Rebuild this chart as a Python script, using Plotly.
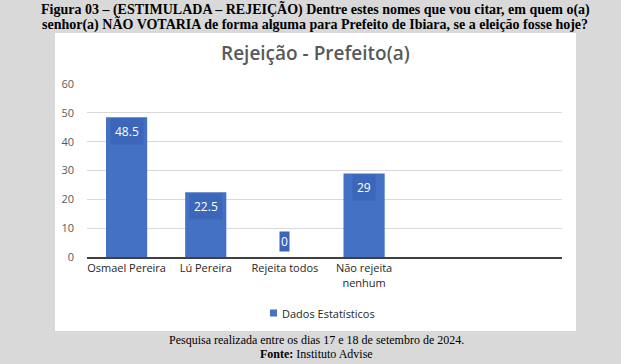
import plotly.graph_objects as go

categories = ["Osmael Pereira", "Lú Pereira", "Rejeita todos", "Não rejeita<br>nenhum", "", ""]
values = [48.5, 22.5, 0, 29]
labels = ["48.5", "22.5", "0", "29"]
series_name = "Dados Estatísticos"
y_ticks = [0, 10, 20, 30, 40, 50, 60]

W, H = 621, 364
L, R, T, B = 87, 59, 84, 107
pw, ph = W - L - R, H - T - B
bar_color = "#4471c4"

def px(x):
    return (x - L) / pw

def py(y):
    return (H - B - y) / ph

x_pos = list(range(len(values)))

fig = go.Figure()
fig.add_trace(go.Bar(
    x=x_pos, y=values, name=series_name, width=0.52,
    marker=dict(color=bar_color, line=dict(width=0)),
    showlegend=False,
))

font_body = "Open Sans, Noto Sans, sans-serif"
annotations = []
for xi, v, t in zip(x_pos, values, labels):
    if v > 0:
        annotations.append(dict(x=xi, y=v, xref="x", yref="y", text=t, showarrow=False,
                                yanchor="top", yshift=-1, bgcolor="#3b66b9", borderpad=4,
                                font=dict(color="white", size=12, family=font_body)))
    else:
        annotations.append(dict(x=xi, y=0, xref="x", yref="y", text=t, showarrow=False,
                                yanchor="bottom", yshift=5, bgcolor="#3b66b9", borderpad=1,
                                font=dict(color="white", size=12, family=font_body)))

serif = "Liberation Serif, Times New Roman, serif"
annotations += [
    dict(x=px(315), y=py(9), xref="paper", yref="paper", showarrow=False,
         text="<b>Figura 03 – (ESTIMULADA – REJEIÇÃO) Dentre estes nomes que vou citar, em quem o(a)</b>",
         font=dict(family=serif, size=14, color="black"), xanchor="center", yanchor="middle"),
    dict(x=px(315), y=py(24), xref="paper", yref="paper", showarrow=False,
         text="<b>senhor(a) NÃO VOTARIA de forma alguma para Prefeito de Ibiara, se a eleição fosse hoje?</b>",
         font=dict(family=serif, size=14, color="black"), xanchor="center", yanchor="middle"),
    dict(x=px(315), y=py(53), xref="paper", yref="paper", showarrow=False,
         text="Rejeição - Prefeito(a)",
         font=dict(family=font_body, size=19, color="#595959", weight=600), xanchor="center", yanchor="middle"),
    dict(x=px(280), y=py(313), xref="paper", yref="paper", showarrow=False,
         text=series_name,
         font=dict(family=font_body, size=11, color="#262626"), xanchor="left", yanchor="middle"),
    dict(x=px(316), y=py(340), xref="paper", yref="paper", showarrow=False,
         text="Pesquisa realizada entre os dias 17 e 18 de setembro de 2024.",
         font=dict(family=serif, size=12, color="black"), xanchor="center", yanchor="middle"),
    dict(x=px(316), y=py(354), xref="paper", yref="paper", showarrow=False,
         text="<b>Fonte:</b> Instituto Advise",
         font=dict(family=serif, size=12, color="black"), xanchor="center", yanchor="middle"),
]

shapes = [
    dict(type="rect", xref="paper", yref="paper", x0=px(55), x1=px(576), y0=py(331), y1=py(33),
         fillcolor="white", line=dict(width=0), layer="below"),
    dict(type="rect", xref="paper", yref="paper", x0=px(270), x1=px(277), y0=py(316.5), y1=py(309.5),
         fillcolor=bar_color, line=dict(width=0)),
]

fig.update_layout(
    width=W, height=H,
    margin=dict(l=L, r=R, t=T, b=B, autoexpand=False),
    paper_bgcolor="#d9d9d9", plot_bgcolor="white",
    shapes=shapes, annotations=annotations,
    showlegend=False,
    xaxis=dict(range=[-0.5, 5.5], tickmode="array", tickvals=list(range(len(categories))),
               ticktext=categories, showgrid=False, showline=True, linecolor="#404040",
               linewidth=2, ticks="", tickfont=dict(family=font_body, size=11, color="#262626"),
               zeroline=False, fixedrange=True),
    yaxis=dict(range=[0, 60], tickvals=y_ticks, showgrid=True, gridcolor="#d9d9d9", gridwidth=1,
               zeroline=False, showline=False, ticks="", ticklabelstandoff=12,
               tickfont=dict(family=font_body, size=11, color="#595959"), fixedrange=True),
)

fig.write_html("out.html", config={"displayModeBar": False},
               post_script="document.body.style.margin='0';document.body.style.background='#d9d9d9';")
